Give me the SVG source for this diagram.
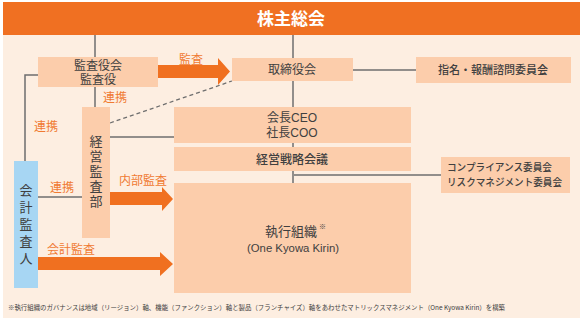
<svg xmlns="http://www.w3.org/2000/svg" width="582" height="322" viewBox="0 0 582 322">
<style>
  .box { fill: #FCCDAB; }
  .t { font-family: "Noto Sans CJK JP", "Noto Sans", sans-serif; fill: #404040; }
  .t2 { font-family: "Liberation Sans", "Noto Sans CJK JP", sans-serif; fill: #404040; }
  .lbl { font-family: "Noto Sans CJK JP", "Noto Sans", sans-serif; fill: #F07A32; font-size: 12px; }
  .ln { stroke: #6E6E6E; stroke-width: 1.5; fill: none; }
  .arr { fill: #F07020; }
  .vt { writing-mode: vertical-rl; text-orientation: upright; }
</style>
<rect x="0" y="0" width="582" height="322" fill="#FFFFFF"/>
<rect x="3" y="35" width="577" height="283" fill="#FDEEE1"/>
<g id="header">
  <rect x="3" y="2" width="577" height="33" fill="#F07022"/>
  <text x="291" y="25" text-anchor="middle" font-family="'Noto Sans CJK JP', sans-serif" font-weight="bold" font-size="17" fill="#FFFFFF">株主総会</text>
</g>
<g id="connectors">
  <line class="ln" x1="95" y1="35" x2="95" y2="107"/>
  <line class="ln" x1="293" y1="35" x2="293" y2="183"/>
  <line class="ln" x1="353" y1="70" x2="416" y2="70"/>
  <polyline class="ln" points="38,75 25,75 25,161"/>
  <line class="ln" x1="110" y1="137" x2="174" y2="137"/>
  <line class="ln" x1="38" y1="197" x2="82" y2="197"/>
  <line class="ln" x1="294" y1="175" x2="441" y2="175"/>
  <line x1="110" y1="123" x2="232" y2="81" stroke="#6E6E6E" stroke-width="1.3" stroke-dasharray="4,3"/>
  <polygon class="arr" points="158,65 218,65 218,58 230,71.5 218,85 218,78 158,78"/>
  <polygon class="arr" points="110,192 162,192 162,187 173,199 162,211 162,205 110,205"/>
  <polygon class="arr" points="38,257 160,257 160,252 173,264 160,276 160,270 38,270"/>
  <text class="lbl" x="191" y="64" text-anchor="middle">監査</text>
  <text class="lbl" x="115" y="102" text-anchor="middle">連携</text>
  <text class="lbl" x="46" y="131" text-anchor="middle">連携</text>
  <text class="lbl" x="62" y="192" text-anchor="middle">連携</text>
  <text class="lbl" x="143" y="185" text-anchor="middle">内部監査</text>
  <text class="lbl" x="71" y="254" text-anchor="middle">会計監査</text>
</g>
<g id="kansayakukai">
  <rect class="box" x="38" y="57" width="120" height="30"/>
  <text class="t2" text-anchor="middle" font-size="12"><tspan x="98" y="70">監査役会</tspan><tspan x="98" y="84">監査役</tspan></text>
</g>
<g id="torishimariyakukai">
  <rect class="box" x="232" y="58" width="121" height="23"/>
  <text class="t" x="292" y="74" text-anchor="middle" font-size="12">取締役会</text>
</g>
<g id="shimei">
  <rect class="box" x="416" y="57" width="155" height="26"/>
  <text class="t" x="493" y="74" text-anchor="middle" font-size="11" font-weight="500">指名・報酬諮問委員会</text>
</g>
<g id="ceo">
  <rect class="box" x="174" y="107" width="237" height="36"/>
  <text class="t2" text-anchor="middle" font-size="12"><tspan x="292" y="122">会長CEO</tspan><tspan x="292" y="137">社長COO</tspan></text>
</g>
<g id="senryaku">
  <rect class="box" x="174" y="147" width="237" height="24"/>
  <text class="t" x="292" y="164" text-anchor="middle" font-size="12" font-weight="500">経営戦略会議</text>
</g>
<g id="shikko">
  <rect class="box" x="174" y="183" width="237" height="110"/>
  <text class="t2" x="265" y="236" font-size="13">執行組織<tspan font-size="7" dy="-7" dx="2">※</tspan></text>
  <text class="t2" x="293" y="251.5" text-anchor="middle" font-size="10" textLength="92" lengthAdjust="spacingAndGlyphs">(One Kyowa Kirin)</text>
</g>
<g id="compliance">
  <rect class="box" x="441" y="157" width="129" height="36"/>
  <text class="t" font-size="10" font-weight="500"><tspan x="447" y="171" textLength="105" lengthAdjust="spacingAndGlyphs">コンプライアンス委員会</tspan><tspan x="447" y="186" textLength="115" lengthAdjust="spacingAndGlyphs">リスクマネジメント委員会</tspan></text>
</g>
<g id="keieikansabu">
  <rect class="box" x="82" y="107" width="28" height="131"/>
  <text class="t vt" x="96" y="135" font-size="13" letter-spacing="2">経営監査部</text>
</g>
<g id="kaikeikansanin">
  <rect x="14" y="161" width="24" height="127" fill="#A7D6F3"/>
  <text class="t vt" x="26" y="184" font-size="13" letter-spacing="4">会計監査人</text>
</g>
<text class="t" x="8" y="310" font-size="6.5" textLength="497" lengthAdjust="spacingAndGlyphs">※執行組織のガバナンスは地域（リージョン）軸、機能（ファンクション）軸と製品（フランチャイズ）軸をあわせたマトリックスマネジメント（One  Kyowa Kirin）を構築</text>
</svg>
